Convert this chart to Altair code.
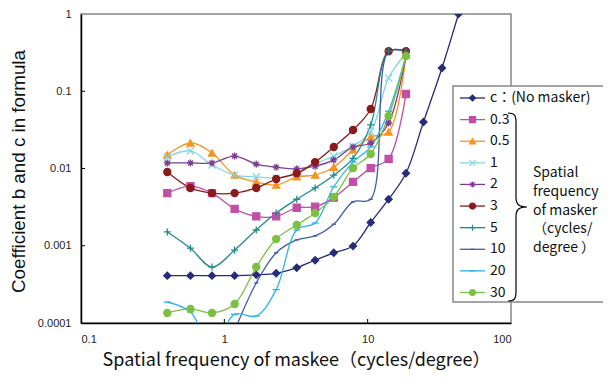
import altair as alt
import pandas as pd

# ---------------- data ----------------
SERIES = ["c", "0.3", "0.5", "1", "2", "3", "5", "10", "20", "30"]
LABELS = ["c：(No masker)", "0.3", "0.5", "1", "2", "3", "5", "10", "20", "30"]

X_C = [0.4, 0.58, 0.82, 1.18, 1.67, 2.3, 3.2, 4.3, 5.8, 7.9, 10.5, 14, 18.5, 24.5, 33, 43]
X_M = [0.4, 0.58, 0.82, 1.18, 1.67, 2.3, 3.2, 4.3, 5.8, 7.9, 10.5, 14, 18.5]

Y_C = [0.00041, 0.00041, 0.00041, 0.00041, 0.00042, 0.00044, 0.00052, 0.00065,
       0.00081, 0.00099, 0.0020, 0.0040, 0.0087, 0.040, 0.20, 1.0]
Y_03 = [0.0048, 0.0059, 0.0048, 0.0030, 0.0024, 0.0024, 0.0031, 0.0032,
        0.0042, 0.0067, 0.0101, 0.0133, 0.092]
Y_05 = [0.0150, 0.0214, 0.0159, 0.0082, 0.0067, 0.0061, 0.0078, 0.0082,
        0.0104, 0.0174, 0.0256, 0.0297, 0.294]
Y_1 = [0.0141, 0.0169, 0.0111, 0.0082, 0.0078, 0.0075, 0.0085, 0.0115,
       0.0145, 0.0195, 0.030, 0.149, 0.31]
Y_2 = [0.0118, 0.0118, 0.0118, 0.0145, 0.0114, 0.0104, 0.0099, 0.0107,
       0.0129, 0.019, 0.0214, 0.0388, 0.29]
Y_3 = [0.0090, 0.0056, 0.0048, 0.0048, 0.0056, 0.0073, 0.0087, 0.0121,
       0.019, 0.0315, 0.059, 0.33, 0.33]
Y_5 = [0.00151, 0.00093, 0.00053, 0.00088, 0.0016, 0.00265, 0.0040, 0.0056,
       0.0082, 0.0135, 0.0366, 0.33, 0.33]
Y_10 = [None, None, None, 0.00008, 0.00033, 0.00081, 0.00119, 0.00134,
        0.0019, 0.0037, 0.0040, 0.33, 0.33]
Y_20 = [0.000187, 0.000139, 0.00005, 0.00013, 0.000123, 0.00027, 0.0016, 0.00197,
        0.0058, 0.0121, 0.019, 0.055, 0.29]
Y_30 = [0.000135, 0.000152, 0.000135, 0.000176, 0.00053, 0.00122, 0.00186, 0.00265,
        0.0043, 0.0101, 0.0154, 0.0478, 0.286]

X_TICKS = [0.1, 1, 10, 100]
Y_TICKS = [0.0001, 0.001, 0.01, 0.1, 1]
BRACE_TEXT = ["Spatial", "frequency", "of masker", "（cycles/", " degree ）"]

# ---------------- styles ----------------
COLORS = ["#262C7A", "#C04FA5", "#F7941D", "#86D5E6", "#7D3C8F",
          "#8B1A1A", "#1F8C8A", "#3E5BA9", "#2BB4EB", "#79C143"]
SHAPES = ["diamond", "square", "triangle-up",
          "M-1,-1L1,1M-1,1L1,-1",
          "M-1,0L1,0M0,-1L0,1M-0.7,-0.7L0.7,0.7M-0.7,0.7L0.7,-0.7",
          "circle",
          "M-1,0L1,0M0,-1L0,1",
          "M-0.6,0L0.6,0",
          "M-1,0L1,0",
          "circle"]
BRACE = ("M-0.085,-1 C-0.02,-1 0,-0.98 0,-0.9 L0,-0.1 C0,-0.03 0.03,0 0.117,0 "
         "C0.03,0 0,0.03 0,0.1 L0,0.9 C0,0.98 -0.02,1 -0.085,1")

ORX, ORY = 81, 14          # absolute position of plot origin
W, H = 430, 309

series_vals = [Y_C, Y_03, Y_05, Y_1, Y_2, Y_3, Y_5, Y_10, Y_20, Y_30]
rows = []
for name, ys in zip(SERIES, series_vals):
    xs = X_C if name == "c" else X_M
    for xv, yv in zip(xs, ys):
        if yv is not None:
            rows.append({"series": name, "x": xv, "value": yv})
df = pd.DataFrame(rows)

legend_df = pd.DataFrame({"series": SERIES, "label": LABELS, "row": list(range(len(SERIES)))})
one = pd.DataFrame({"k": [0]})
ytick_df = pd.DataFrame({"v": Y_TICKS[1:-1]})
xtick_df = pd.DataFrame({"x": X_TICKS[1:-1]})

color_scale = alt.Scale(domain=SERIES, range=COLORS)
shape_scale = alt.Scale(domain=SERIES, range=SHAPES)
x_scale = alt.Scale(type="log", domain=[0.1, 100])
y_scale = alt.Scale(type="log", domain=[0.0001, 1])

x_axis = alt.Axis(values=X_TICKS, format="~g", grid=False, tickSize=0,
                  labelFont="Liberation Sans", labelFontSize=11, labelColor="#222",
                  labelPadding=10, domainColor="black", domainWidth=1.5,
                  title="Spatial frequency of maskee（cycles/degree）",
                  titleFont="Noto Sans CJK JP", titleFontSize=18,
                  titleFontWeight="normal", titleColor="#111", titlePadding=7)
y_axis = alt.Axis(values=Y_TICKS, format="~g", grid=False, tickSize=0,
                  labelFont="Liberation Sans", labelFontSize=11, labelColor="#222",
                  labelPadding=10, domainColor="black", domainWidth=1.5,
                  title="Coefficient b and c in formula",
                  titleFont="Liberation Sans", titleFontSize=18.8,
                  titleFontWeight="normal", titleColor="#111", titlePadding=9,
                  titleY=157)

X = alt.X("x:Q", scale=x_scale, axis=x_axis)

lines = alt.Chart(df).mark_line(interpolate="catmull-rom", strokeWidth=1.3, clip=True).encode(
    x=X,
    y=alt.Y("value:Q", scale=y_scale, axis=y_axis),
    color=alt.Color("series:N", scale=color_scale, legend=None),
    detail="series:N",
    order="x:Q",
)

points = alt.Chart(df).mark_point(filled=False, opacity=1, size=50, strokeWidth=1.3, clip=True).encode(
    x=X,
    y=alt.Y("value:Q", scale=y_scale, axis=None),
    color=alt.Color("series:N", scale=color_scale, legend=None),
    fill=alt.Fill("series:N", scale=color_scale, legend=None),
    shape=alt.Shape("series:N", scale=shape_scale, legend=None),
)

yticks = alt.Chart(ytick_df).mark_rule(color="black", strokeWidth=1).encode(
    y=alt.Y("v:Q", scale=y_scale, axis=None),
    x=alt.value(0), x2=alt.value(4),
)
xticks = alt.Chart(xtick_df).mark_rule(color="black", strokeWidth=1).encode(
    x=X,
    y=alt.value(H), y2=alt.value(H - 4),
)

box = alt.Chart(one).mark_rect(fill="white", stroke="#888888", strokeWidth=1.5).encode(
    x=alt.value(453 - ORX), x2=alt.value(700),
    y=alt.value(86 - ORY), y2=alt.value(302 - ORY),
)

leg_y = alt.Y("row:Q", scale=alt.Scale(domain=[0, 9], range=[98 - ORY, 292.5 - ORY]), axis=None)

leg_lines = alt.Chart(legend_df).mark_rule(strokeWidth=1.3).encode(
    x=alt.value(460 - ORX), x2=alt.value(485 - ORX),
    y=leg_y,
    color=alt.Color("series:N", scale=color_scale, legend=None),
)
leg_points = alt.Chart(legend_df).mark_point(filled=False, opacity=1, size=36, strokeWidth=1.2).encode(
    x=alt.value(472.5 - ORX),
    y=leg_y,
    color=alt.Color("series:N", scale=color_scale, legend=None),
    fill=alt.Fill("series:N", scale=color_scale, legend=None),
    shape=alt.Shape("series:N", scale=shape_scale, legend=None),
)
leg_text = alt.Chart(legend_df).mark_text(align="left", baseline="middle", font="Noto Sans CJK JP",
                                          fontSize=14, color="#111").encode(
    x=alt.value(490 - ORX),
    y=leg_y,
    text="label:N",
)

brace = alt.Chart(one).mark_point(shape=BRACE, size=188 * 188, filled=False, opacity=1,
                                  stroke="black", strokeWidth=1.2).encode(
    x=alt.value(516 - ORX), y=alt.value(207 - ORY),
)
brace_text = alt.Chart(one).mark_text(text=BRACE_TEXT, align="left", baseline="middle",
                                      font="Noto Sans CJK JP", fontSize=14, lineHeight=18.8,
                                      color="#111").encode(
    x=alt.value(533 - ORX), y=alt.value(173 - ORY),
)

chart = alt.layer(
    lines, points, yticks, xticks, box, leg_lines, leg_points, leg_text, brace, brace_text
).resolve_scale(y="independent").properties(
    width=W, height=H,
    padding={"left": 73, "top": 6, "right": 92, "bottom": 49},
    autosize=alt.AutoSizeParams(type="none"),
).configure_view(stroke="#888888", strokeWidth=1.5)

chart.save("out.html", embed_options={"renderer": "svg", "actions": False})
